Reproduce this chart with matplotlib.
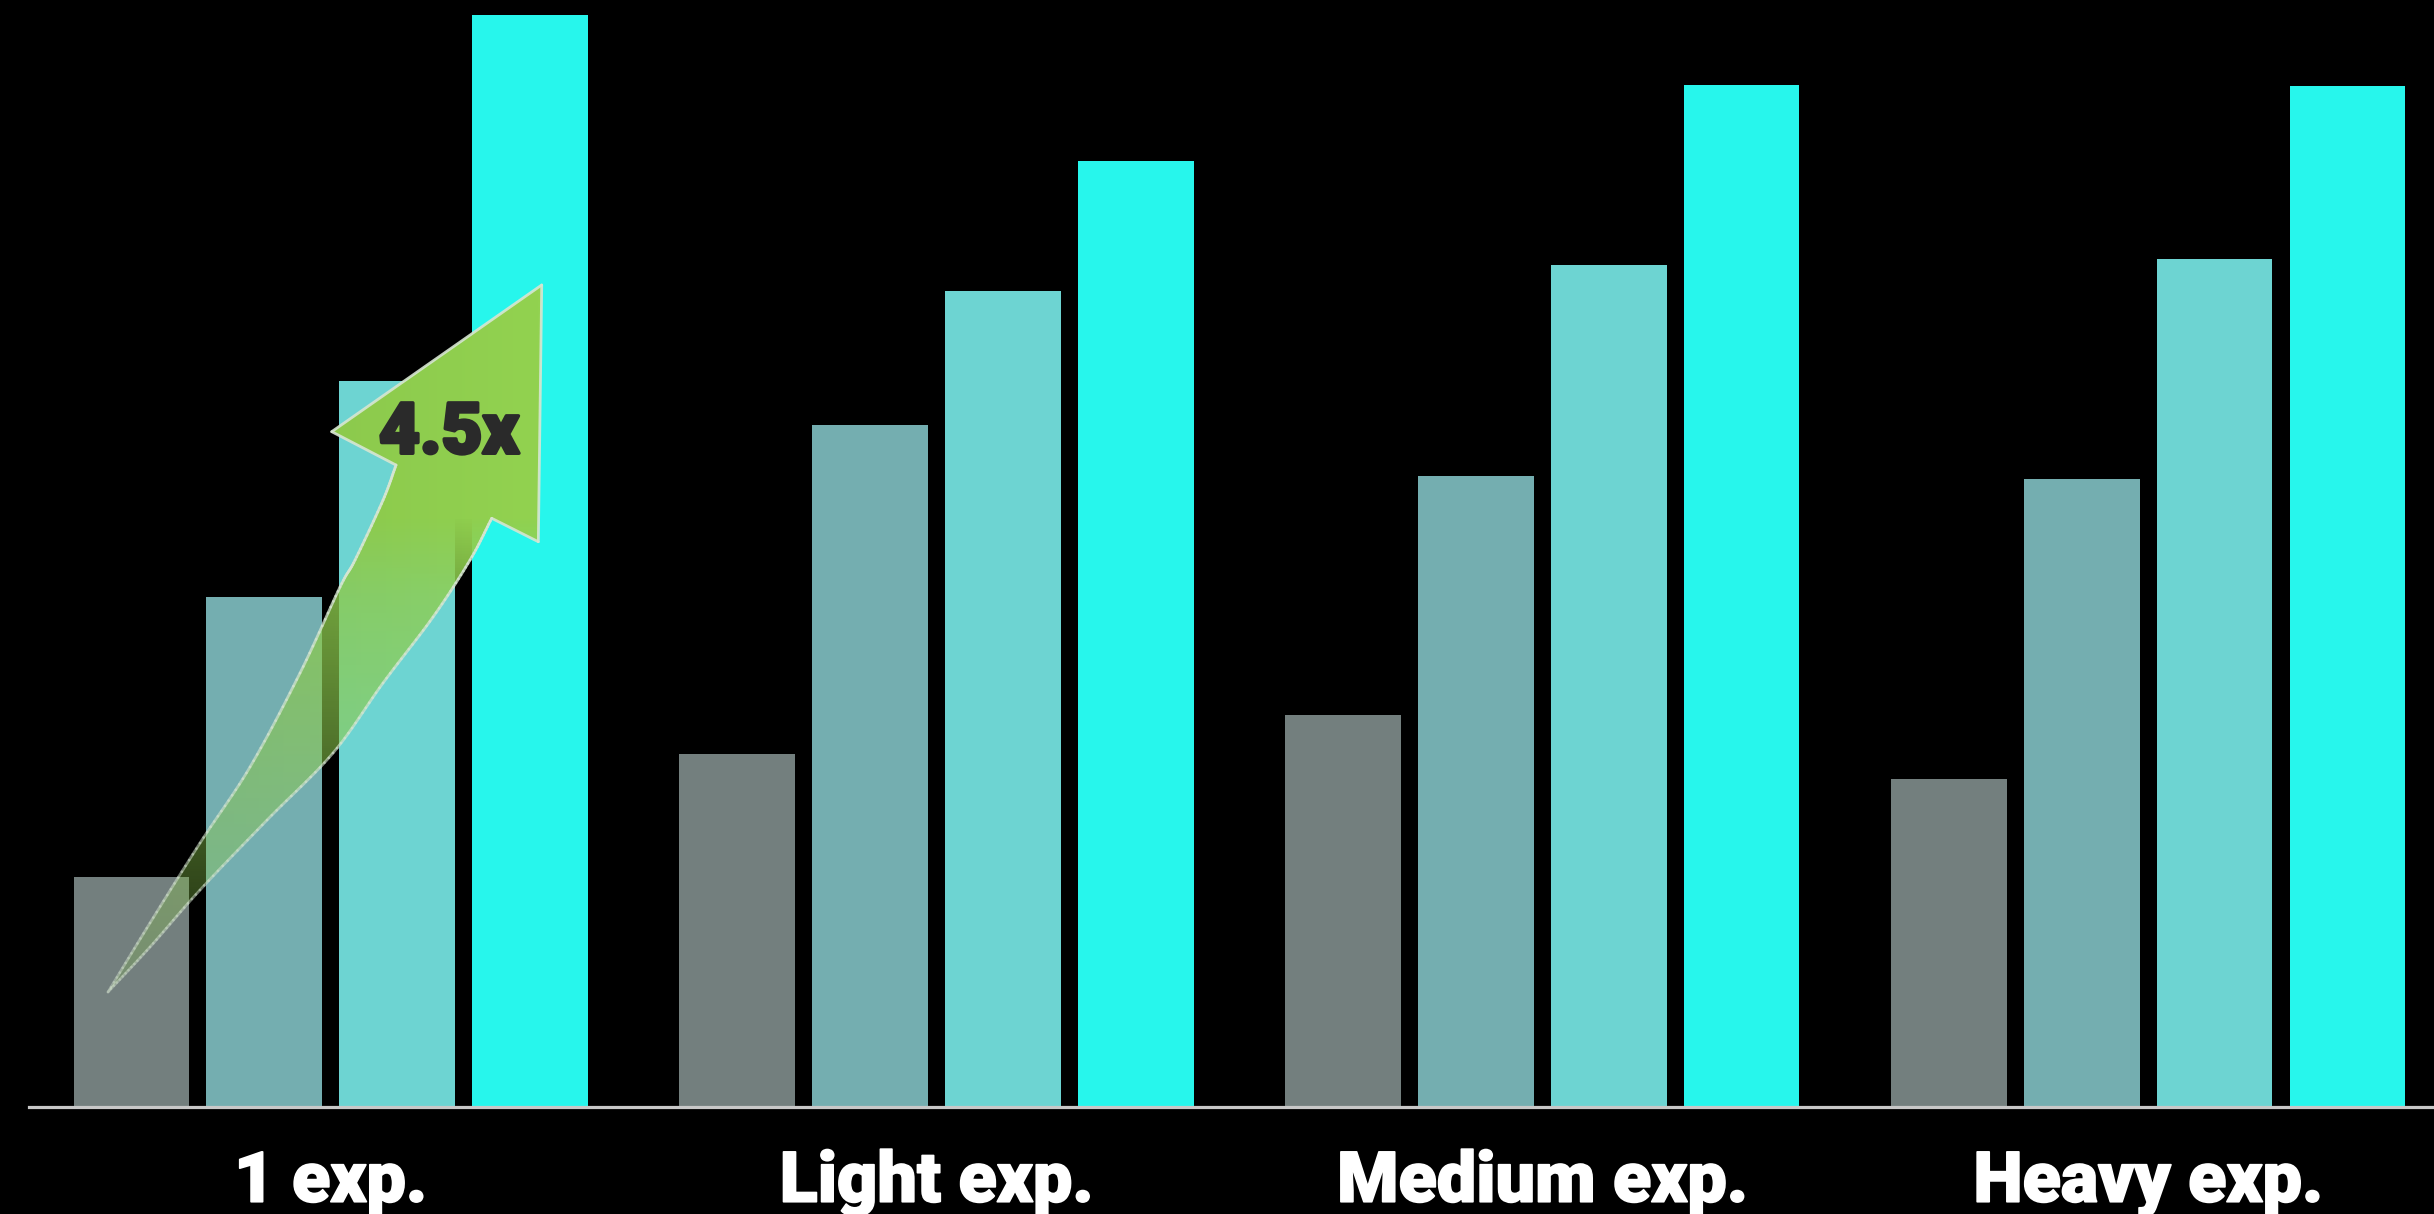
import numpy as np
import matplotlib
matplotlib.use("Agg")
import matplotlib.pyplot as plt
import matplotlib.font_manager as fm
import matplotlib.patheffects as pe
from matplotlib.patches import Polygon
from matplotlib.collections import LineCollection

# ---------------- data ----------------
categories = ["1 exp.", "Light exp.", "Medium exp.", "Heavy exp."]
series_1 = [14.75, 22.65, 25.15, 21.05]
series_2 = [32.75, 43.85, 40.55, 40.35]
series_3 = [46.65, 52.45, 54.15, 54.55]
series_4 = [70.25, 60.85, 65.75, 65.65]
series_colors = ["#737F7E", "#74AEB0", "#6DD4D2", "#27F6EC"]
growth_label = "4.5x"

# arrow annotation outline (data coords: x = group units, y = value units)
arrow_left_edge = [(-0.3674, 7.31), (-0.2981, 11.76), (-0.2156, 16.91), (-0.1330, 21.81),
                   (-0.0505, 27.86), (0.0155, 33.40), (0.0403, 35.14), (0.0865, 39.00),
                   (0.1080, 41.26)]
arrow_head = [(0.0018, 43.41), (0.3484, 52.86), (0.3428, 36.32)]
arrow_right_edge = [(0.2659, 37.83), (0.2301, 35.14), (0.1690, 31.47), (0.0865, 27.22),
                    (0.0040, 22.71), (-0.1049, 18.39), (-0.2156, 13.88), (-0.2981, 10.21),
                    (-0.3674, 7.31)]


# ---------------- fonts: pick the heaviest installed sans ----------------
def _w(e):
    w = e.weight
    if isinstance(w, str):
        w = {"black": 900, "heavy": 900, "extra bold": 800, "bold": 700}.get(w.lower(), 400)
    return w


def heavy_font():
    pref = ["Roboto", "Lato", "Inter", "Open Sans", "Noto Sans", "Liberation Sans", "DejaVu Sans"]
    best = None
    for fam in pref:
        ents = [f for f in fm.fontManager.ttflist
                if f.name == fam and f.style == "normal" and "Condensed" not in f.fname
                and "Narrow" not in f.fname and "Italic" not in f.fname]
        if not ents:
            continue
        e = max(ents, key=_w)
        if _w(e) >= 900:
            return e.fname, _w(e)
        if best is None or _w(e) > best[1]:
            best = (e.fname, _w(e))
    return best


font_file, font_weight = heavy_font()
stroke_w = 1.2 if font_weight >= 900 else 2.5


def fprop(size):
    return fm.FontProperties(fname=font_file, size=size)


W, H = 2434, 1214
fig = plt.figure(figsize=(W / 100, H / 100), dpi=100, facecolor="black")
left_px, base_px = 28.7, 1105.5
ax = fig.add_axes([left_px / W, (H - base_px) / H, 1 - left_px / W, base_px / H])
ax.set_facecolor("black")

series = [series_1, series_2, series_3, series_4]
x = np.arange(len(categories))
step, width = 0.2193, 0.1905
for i, (vals, col) in enumerate(zip(series, series_colors)):
    ax.bar(x + (i - 1.5) * step, vals, width, color=col, zorder=2, linewidth=0)

xlim = (-0.4983, 3.4715)
ylim = (0, 71.22)

for s in ax.spines.values():
    s.set_visible(False)
ax.set_xticks([])
ax.set_yticks([])

ax.axhline(-0.097, color="#c8c8c8", lw=2.3, zorder=3, clip_on=False)

for xi, cat in zip(x, categories):
    t = ax.text(xi, -6.2, cat, ha="center", va="baseline", color="white",
                fontproperties=fprop(50.5), clip_on=False, zorder=5)
    t.set_path_effects([pe.withStroke(linewidth=stroke_w, foreground="white")])


# ---------------- arrow ----------------
def catmull(pts, n=14):
    pts = np.asarray(pts, dtype=float)
    P = np.vstack([2 * pts[0] - pts[1], pts, 2 * pts[-1] - pts[-2]])
    out = []
    for i in range(1, len(P) - 2):
        p0, p1, p2, p3 = P[i - 1], P[i], P[i + 1], P[i + 2]
        for tt in np.linspace(0, 1, n, endpoint=False):
            t2, t3 = tt * tt, tt * tt * tt
            out.append(0.5 * (2 * p1 + (-p0 + p2) * tt + (2 * p0 - 5 * p1 + 4 * p2 - p3) * t2
                              + (-p0 + 3 * p1 - 3 * p2 + p3) * t3))
    out.append(P[-2])
    return np.array(out)


le = catmull(arrow_left_edge)
re = catmull(arrow_right_edge)
outline = np.vstack([le, np.asarray(arrow_head), re])

poly = Polygon(outline, closed=True, fill=False, linewidth=0, transform=ax.transData)
ax.add_patch(poly)


def fade(y):
    # opacity grows from the faint tail to the solid head
    py = base_px - y * (base_px / ylim[1])
    lower = 0.8 - (py - 600.0) * 0.0015
    upper = 0.8 + (600.0 - py) * 0.0025
    a = np.where(py > 600.0, lower, upper)
    return np.clip(a, 0.18, 1.0)


xmin, ymin = outline.min(axis=0)
xmax, ymax = outline.max(axis=0)
ny, nx = 400, 60
yy = np.linspace(ymin, ymax, ny)
xx = np.linspace(0, 1, nx)
rgba = np.zeros((ny, nx, 4))
green = np.array([146, 210, 80]) / 255.0
shade = 0.92 + 0.08 * xx  # slightly darker on the left side of the shaft
rgba[..., :3] = green[None, None, :] * shade[None, :, None]
rgba[..., 3] = fade(yy)[:, None]
im = ax.imshow(rgba, extent=[xmin, xmax, ymin, ymax], origin="lower", aspect="auto",
               zorder=3, interpolation="bilinear")
im.set_clip_path(poly)

closed = np.vstack([outline, outline[:1]])
segs = np.stack([closed[:-1], closed[1:]], axis=1)
mid_y = segs[:, :, 1].mean(axis=1)
seg_cols = np.zeros((len(segs), 4))
seg_cols[:, :3] = np.array([215, 230, 210]) / 255.0
seg_cols[:, 3] = 0.25 + 0.65 * fade(mid_y)
lc = LineCollection(segs, colors=seg_cols, linewidths=2.0, zorder=4, capstyle="round",
                    joinstyle="round")
ax.add_collection(lc)

tl = ax.text(0.1954, 42.02, growth_label, ha="center", va="baseline", color="#2a2a2a",
             fontproperties=fprop(51), zorder=5)
tl.set_path_effects([pe.withStroke(linewidth=2.5, foreground="#2a2a2a")])

ax.set_xlim(*xlim)
ax.set_ylim(*ylim)

fig.savefig("out.png", dpi=100, facecolor="black")
